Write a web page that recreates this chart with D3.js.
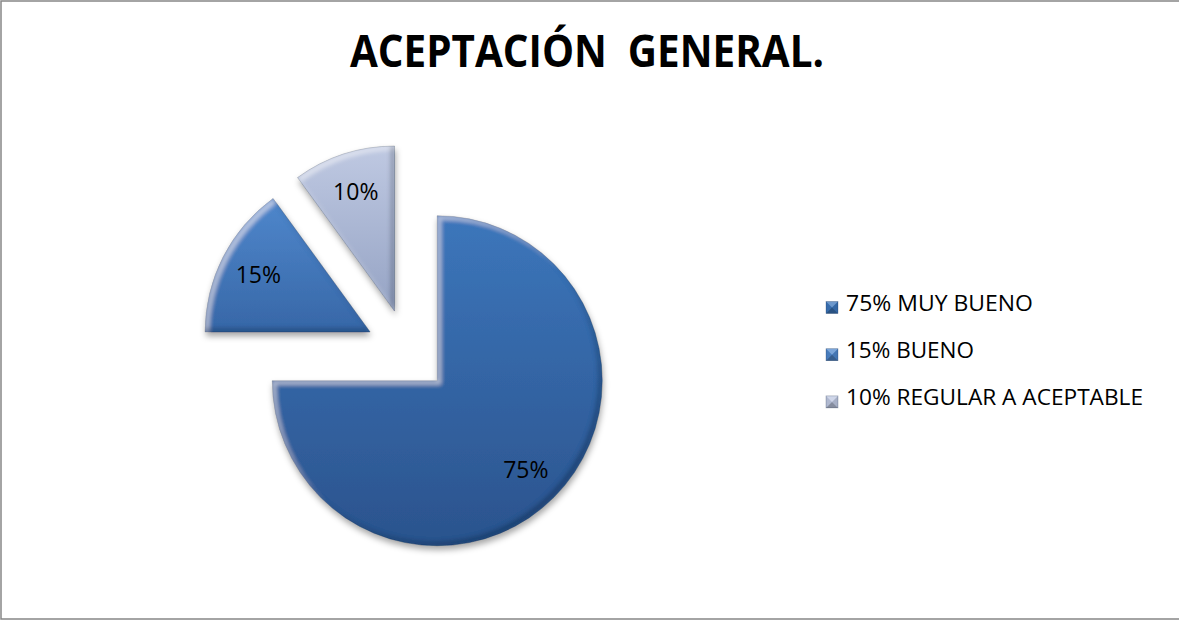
<!DOCTYPE html>
<html>
<head>
<meta charset="utf-8">
<script src="https://cdn.jsdelivr.net/npm/d3@7"></script>
<style>
  html, body { margin: 0; padding: 0; background: #fff; }
  svg { display: block; }
  text { font-family: "Open Sans", "DejaVu Sans", sans-serif; fill: #000; }
</style>
</head>
<body>
<svg id="chart" width="1179" height="620"></svg>
<script>
// Chart data
const title = "ACEPTACIÓN  GENERAL.";
const categories = ["MUY BUENO", "BUENO", "REGULAR A ACEPTABLE"];
const values = [75, 15, 10];
const valueLabels = ["75%", "15%", "10%"];
const legendLabels = ["75% MUY BUENO", "15% BUENO", "10% REGULAR A ACEPTABLE"];

// Fill gradients per slice (top colour, bottom colour)
const sliceColors = [
  ["#3c76bb", "#2b538d"],
  ["#4f87cc", "#3767a7"],
  ["#bfc9e2", "#95a3c4"]
];

const W = 1179, H = 620;
const svg = d3.select("#chart");
const defs = svg.append("defs");

// Frame (right edge runs past the page)
svg.append("rect")
  .attr("x", 1).attr("y", 1).attr("width", W + 10).attr("height", H - 2)
  .attr("fill", "#fff").attr("stroke", "#868686").attr("stroke-width", 1.5);

// Title
svg.append("text")
  .attr("x", 587).attr("y", 67)
  .attr("text-anchor", "middle")
  .attr("font-size", 44).attr("font-weight", 700)
  .attr("textLength", 474).attr("lengthAdjust", "spacingAndGlyphs")
  .style("white-space", "pre")
  .text(title);

// Gradients
sliceColors.forEach((c, i) => {
  const g = defs.append("linearGradient").attr("id", "grad" + i)
    .attr("x1", 0).attr("y1", 0).attr("x2", 0).attr("y2", 1);
  g.append("stop").attr("offset", "0%").attr("stop-color", c[0]);
  g.append("stop").attr("offset", "100%").attr("stop-color", c[1]);
});

// Soft bevel + drop shadow
function bevelFilter(id, d, blur, shadowBlur, shadowDy) {
  const f = defs.append("filter").attr("id", id)
    .attr("x", "-20%").attr("y", "-20%").attr("width", "140%").attr("height", "140%");
  f.append("feOffset").attr("in", "SourceAlpha").attr("dx", d).attr("dy", d).attr("result", "offDown");
  f.append("feComposite").attr("in", "SourceAlpha").attr("in2", "offDown").attr("operator", "out").attr("result", "hiEdge");
  f.append("feGaussianBlur").attr("in", "hiEdge").attr("stdDeviation", blur).attr("result", "hiBlur");
  f.append("feFlood").attr("flood-color", "#ffffff").attr("flood-opacity", 0.45).attr("result", "hiCol");
  f.append("feComposite").attr("in", "hiCol").attr("in2", "hiBlur").attr("operator", "in").attr("result", "hi0");
  f.append("feComposite").attr("in", "hi0").attr("in2", "SourceAlpha").attr("operator", "in").attr("result", "hi");

  f.append("feOffset").attr("in", "SourceAlpha").attr("dx", -d).attr("dy", -d).attr("result", "offUp");
  f.append("feComposite").attr("in", "SourceAlpha").attr("in2", "offUp").attr("operator", "out").attr("result", "loEdge");
  f.append("feGaussianBlur").attr("in", "loEdge").attr("stdDeviation", blur).attr("result", "loBlur");
  f.append("feFlood").attr("flood-color", "#0d1f3a").attr("flood-opacity", 0.5).attr("result", "loCol");
  f.append("feComposite").attr("in", "loCol").attr("in2", "loBlur").attr("operator", "in").attr("result", "lo0");
  f.append("feComposite").attr("in", "lo0").attr("in2", "SourceAlpha").attr("operator", "in").attr("result", "lo");

  f.append("feGaussianBlur").attr("in", "SourceAlpha").attr("stdDeviation", shadowBlur).attr("result", "sb");
  f.append("feOffset").attr("in", "sb").attr("dx", 1).attr("dy", shadowDy).attr("result", "sbo");
  f.append("feFlood").attr("flood-color", "#000").attr("flood-opacity", 0.35).attr("result", "sc");
  f.append("feComposite").attr("in", "sc").attr("in2", "sbo").attr("operator", "in").attr("result", "shadow");

  const m = f.append("feMerge");
  ["shadow", "SourceGraphic", "hi", "lo"].forEach(n => m.append("feMergeNode").attr("in", n));
}
bevelFilter("bevel", 4, 2, 3, 4);

// Pie
const cx = 407.5, cy = 351, R = 165, explode = 42;
const pie = d3.pie().sort(null).value(d => d)(values);
const arc = d3.arc().innerRadius(0).outerRadius(R);
const labelArc = d3.arc().innerRadius(R * 0.76).outerRadius(R * 0.76);

const gPie = svg.append("g").attr("transform", `translate(${cx},${cy})`);
const slices = gPie.selectAll("g.slice").data(pie).join("g")
  .attr("class", "slice")
  .attr("transform", d => {
    const a = (d.startAngle + d.endAngle) / 2;
    return `translate(${explode * Math.sin(a)},${-explode * Math.cos(a)})`;
  });

slices.append("path")
  .attr("d", arc)
  .attr("fill", (d, i) => `url(#grad${i})`)
  .attr("stroke", "rgba(20,40,70,0.35)")
  .attr("stroke-width", 0.8)
  .attr("filter", "url(#bevel)");

slices.append("text")
  .attr("transform", d => `translate(${labelArc.centroid(d)})`)
  .attr("text-anchor", "middle")
  .attr("dy", "0.36em")
  .attr("font-size", 23)
  .text((d, i) => valueLabels[i]);

// Legend: bevelled square keys (four shaded facets) and labels
const legendX = 826, legendY0 = 311, legendStep = 47.2, key = 12;
const legendWidths = [187, 128, 297];
const leg = svg.append("g");
const items = leg.selectAll("g").data(categories).join("g")
  .attr("transform", (d, i) => `translate(${legendX},${legendY0 + i * legendStep})`);

const facets = [
  { pts: [[0, 0], [key, 0], [key / 2, key / 2]], shade: "#ffffff", op: 0.25 },   // top
  { pts: [[0, 0], [key / 2, key / 2], [0, key]], shade: "#000000", op: 0.08 },     // left
  { pts: [[key, 0], [key, key], [key / 2, key / 2]], shade: "#000000", op: 0.12 }, // right
  { pts: [[0, key], [key / 2, key / 2], [key, key]], shade: "#000000", op: 0.3 }   // bottom
];
items.each(function (d, i) {
  const k = d3.select(this).append("g").attr("transform", `translate(0,${-key + 2.5})`);
  k.append("rect").attr("width", key).attr("height", key).attr("fill", sliceColors[i][0]);
  k.selectAll("polygon").data(facets).join("polygon")
    .attr("points", f => f.pts.map(p => p.join(",")).join(" "))
    .attr("fill", f => f.shade).attr("fill-opacity", f => f.op);
  k.append("rect").attr("width", key).attr("height", key)
    .attr("fill", "none").attr("stroke", "rgba(20,40,70,0.4)").attr("stroke-width", 0.6);
});

items.append("text")
  .attr("x", 20).attr("y", 0)
  .attr("font-size", 21)
  .attr("textLength", (d, i) => legendWidths[i])
  .attr("lengthAdjust", "spacingAndGlyphs")
  .text((d, i) => legendLabels[i]);
</script>
</body>
</html>
